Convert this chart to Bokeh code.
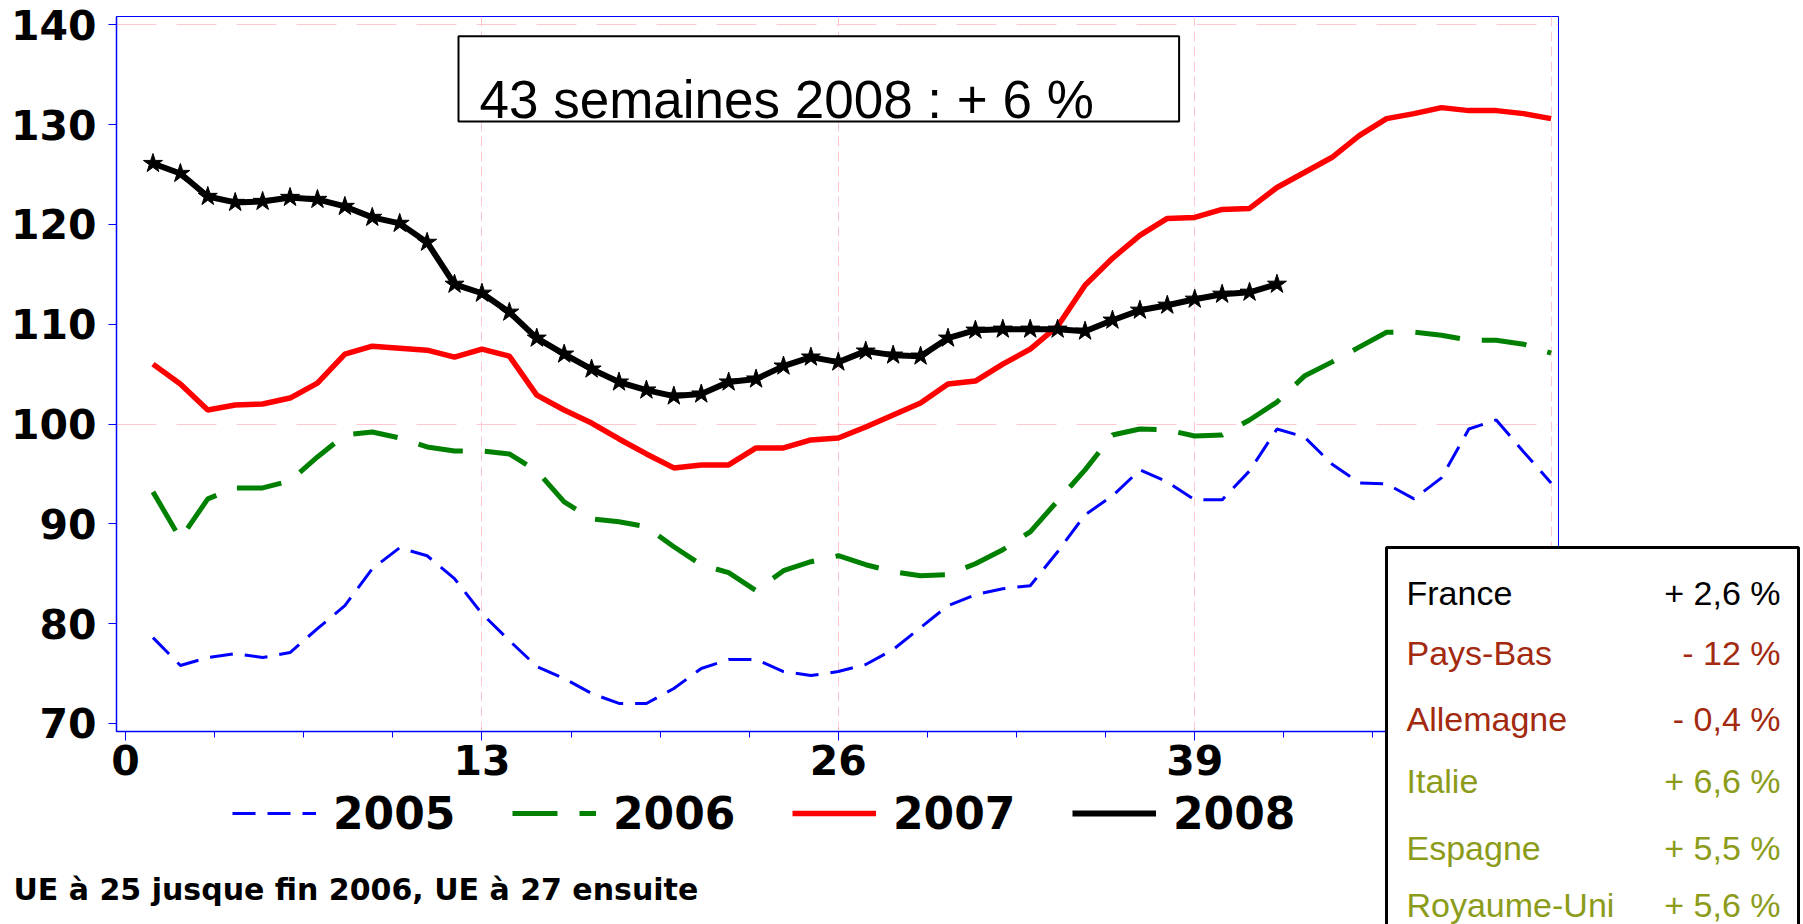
from bokeh.plotting import figure
from bokeh.layouts import column, row
from bokeh.models import Range1d, FixedTicker, Legend, LegendItem, Label, BoxAnnotation
from bokeh.embed import file_html
from bokeh.resources import INLINE

# ---------------- data ----------------
weeks = list(range(1, 53))
weeks_2008 = list(range(1, 43))

v2005 = [78.6, 75.8, 76.6, 77.0, 76.6, 77.1, 79.5, 81.8, 85.5, 87.6, 86.8, 84.5, 81.0,
         78.3, 75.7, 74.5, 73.0, 72.0, 72.0, 73.5, 75.5, 76.4, 76.4, 75.2, 74.8, 75.2,
         75.9, 77.4, 79.6, 81.8, 82.9, 83.5, 83.8, 87.2, 90.9, 92.8, 95.4, 94.2, 92.4,
         92.4, 95.3, 99.5, 98.7, 96.0, 94.1, 94.0, 92.5, 94.6, 99.5, 100.4, 97.2, 94.1]
v2006 = [93.2, 88.5, 92.5, 93.6, 93.6, 94.3, 96.7, 98.9, 99.2, 98.6, 97.7, 97.3, 97.3,
         97.0, 95.3, 92.2, 90.5, 90.2, 89.7, 87.7, 85.9, 85.1, 83.3, 85.3, 86.2, 86.8,
         85.9, 85.2, 84.8, 84.9, 86.0, 87.4, 89.2, 92.3, 95.4, 98.9, 99.5, 99.4, 98.8,
         98.9, 100.4, 102.2, 104.8, 106.2, 107.7, 109.2, 109.2, 108.9, 108.4, 108.4, 108.0, 107.1]
v2007 = [106.0, 104.0, 101.4, 101.9, 102.0, 102.6, 104.1, 107.0, 107.8, 107.6, 107.4, 106.7, 107.5,
         106.8, 102.9, 101.4, 100.1, 98.5, 97.0, 95.6, 95.9, 95.9, 97.6, 97.6, 98.4, 98.6,
         99.7, 100.9, 102.1, 104.0, 104.3, 106.0, 107.5, 109.8, 113.9, 116.6, 118.9, 120.6, 120.7,
         121.5, 121.6, 123.7, 125.2, 126.7, 128.9, 130.6, 131.1, 131.7, 131.4, 131.4, 131.1, 130.6]
v2008 = [126.1, 125.1, 122.8, 122.2, 122.3, 122.7, 122.5, 121.8, 120.7, 120.1, 118.2, 114.0, 113.1,
         111.2, 108.6, 107.0, 105.5, 104.2, 103.4, 102.8, 103.0, 104.2, 104.5, 105.8, 106.7, 106.2,
         107.3, 106.9, 106.8, 108.6, 109.4, 109.5, 109.5, 109.5, 109.3, 110.4, 111.4, 111.9, 112.5,
         113.0, 113.2, 114.0]

series_names = ["2005", "2006", "2007", "2008"]
series_colors = ["#0000FF", "#008000", "#FF0000", "black"]
series_widths = [3, 5, 5.5, 6]
series_dashes = ["23 12", "45 22", "solid", "solid"]
x_ticks = [0, 13, 26, 39, 52]
x_minor = [3.25, 6.5, 9.75, 16.25, 19.5, 22.75, 29.25, 32.5, 35.75, 42.25, 45.5, 48.75]
y_ticks = [70, 80, 90, 100, 110, 120, 130, 140]

countries = ["France", "Pays-Bas", "Allemagne", "Italie", "Espagne", "Royaume-Uni"]
country_vals = ["+ 2,6 %", "- 12 %", "- 0,4 %", "+ 6,6 %", "+ 5,5 %", "+ 5,6 %"]
country_colors = ["black", "#A3290F", "#A3290F", "#8C9C1A", "#8C9C1A", "#8C9C1A"]

headline = "43 semaines 2008 : + 6 %"
footnote = "UE à 25 jusque fin 2006, UE à 27 ensuite"

# ---------------- layout (screen pixels) ----------------
W, H = 1800, 924
FL, FT, FW, FH = 116, 16, 1442, 715
X0, X1 = -0.33, 52.27
Y0, Y1 = 69.19, 140.83


def dx(sx):
    return X0 + (sx - FL) / FW * (X1 - X0)


def dy(sy):
    return Y1 - (sy - FT) / FH * (Y1 - Y0)


# ================= main chart =================
p = figure(frame_width=FW, frame_height=FH,
           min_border_left=FL, min_border_top=FT,
           min_border_right=W - FL - FW,
           min_border_bottom=H - FT - FH,
           x_range=Range1d(X0, X1), y_range=Range1d(Y0, Y1),
           output_backend="svg", toolbar_location=None,
           background_fill_color="white", border_fill_color="white")

p.outline_line_color = "#0000FF"
p.outline_line_width = 1

p.xgrid.ticker = FixedTicker(ticks=[13, 26, 39, 52])
p.xgrid.grid_line_color = "#FFC8D0"
p.xgrid.grid_line_dash = "10 5"
p.xgrid.grid_line_width = 1
p.ygrid.ticker = FixedTicker(ticks=[100, 140])
p.ygrid.grid_line_color = "#FFC8D0"
p.ygrid.grid_line_dash = "40 20"
p.ygrid.grid_line_width = 1.2

for ax in (p.xaxis[0], p.yaxis[0]):
    ax.axis_line_color = "#0000FF"
    ax.axis_line_width = 1.5
    ax.major_tick_line_color = "#0000FF"
    ax.minor_tick_line_color = "#0000FF"
    ax.major_tick_in = 0
    ax.minor_tick_in = 0
    ax.major_label_text_font = "DejaVu Sans"
    ax.major_label_text_font_style = "bold"
    ax.major_label_text_font_size = "41px"
    ax.major_label_text_color = "black"

p.xaxis.ticker = FixedTicker(ticks=x_ticks, minor_ticks=x_minor)
p.xaxis.major_label_overrides = {52: ""}
p.xaxis.major_tick_out = 9
p.xaxis.minor_tick_out = 6
p.xaxis.major_label_standoff = 4

p.yaxis.ticker = FixedTicker(ticks=y_ticks)
p.yaxis.major_tick_out = 8
p.yaxis.minor_tick_out = 0
p.yaxis.major_label_standoff = 12

all_x = [weeks, weeks, weeks, weeks_2008]
all_y = [v2005, v2006, v2007, v2008]
for xs, ys, c, w, d in zip(all_x, all_y, series_colors, series_widths, series_dashes):
    p.line(xs, ys, line_color=c, line_width=w, line_dash=d)
p.scatter(weeks_2008, v2008, marker="star", size=20, fill_color="black", line_color="black")

p.add_layout(BoxAnnotation(left=dx(458), right=dx(1178.6), top=dy(35.7), bottom=dy(121),
                           fill_color="white", fill_alpha=1, line_color="black",
                           line_alpha=1, line_width=2, level="annotation"))
p.add_layout(Label(x=dx(479), y=dy(99), text=headline, text_font="Liberation Sans",
                   text_font_size="53px", text_baseline="alphabetic", text_align="left",
                   text_color="black", level="annotation"))

# ================= overlay (legend, note, country box) =================
q = figure(width=W, height=H, x_range=Range1d(0, W), y_range=Range1d(H, 0),
           x_axis_location=None, y_axis_location=None,
           min_border_left=0, min_border_right=0, min_border_top=0, min_border_bottom=0,
           output_backend="svg", toolbar_location=None,
           background_fill_alpha=0, border_fill_alpha=0,
           margin=(-H, 0, 0, 0))
q.outline_line_color = None
q.grid.visible = False

# legend samples: style only, no visible data
nan = float("nan")
samples = [q.line(x=[nan], y=[nan], line_color=c, line_width=w, line_dash=d)
           for c, w, d in zip(series_colors, series_widths, series_dashes)]

LEG_R = 56
legend = Legend(items=[LegendItem(label=n, renderers=[r]) for n, r in zip(series_names, samples)],
                orientation="horizontal", location=(232, H - (813 + LEG_R // 2)),
                glyph_width=84, glyph_height=LEG_R, label_height=LEG_R,
                label_standoff=17, label_width=126, spacing=53, padding=0, margin=0,
                border_line_color=None, background_fill_alpha=0,
                label_text_font="DejaVu Sans", label_text_font_style="bold",
                label_text_font_size="44px", label_text_color="black")
q.add_layout(legend)

q.add_layout(Label(x=13, y=889, text=footnote, text_font="DejaVu Sans",
                   text_font_style="bold", text_font_size="30px",
                   text_baseline="alphabetic", text_color="black"))

q.add_layout(BoxAnnotation(left=1386, right=1798, top=547, bottom=H + 40,
                           fill_color="white", fill_alpha=1, line_color="black",
                           line_alpha=1, line_width=3))
baselines = [592, 652.7, 718.3, 780, 847, 904]
for name, val, b, c in zip(countries, country_vals, baselines, country_colors):
    q.add_layout(Label(x=1406, y=b, text=name, text_font="Liberation Sans",
                       text_font_size="34px", text_baseline="alphabetic",
                       text_align="left", text_color=c))
    q.add_layout(Label(x=1780, y=b, text=val, text_font="Liberation Sans",
                       text_font_size="34px", text_baseline="alphabetic",
                       text_align="right", text_color=c))

if hasattr(q, "frame_align"):
    p.frame_align = False
    q.frame_align = False
    layout = column(p, q, spacing=0)
else:
    layout = column(p, row(q), spacing=0)

open("out.html", "w").write(file_html(layout, INLINE))
